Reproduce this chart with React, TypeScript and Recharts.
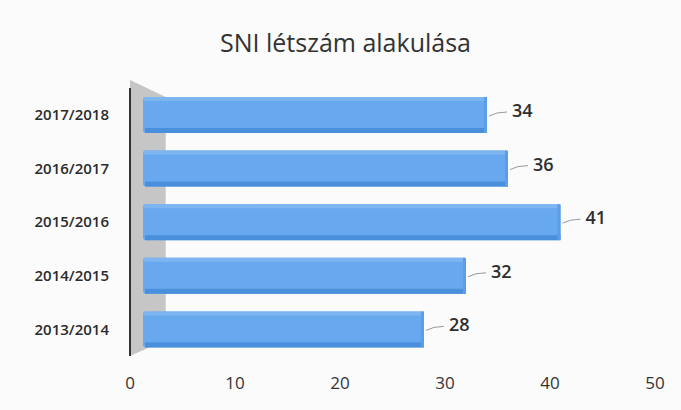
import React from 'react';
import {
    BarChart,
    Bar,
    XAxis,
    YAxis,
    LabelList,
    ReferenceArea
} from 'recharts';

const years = ['2017/2018', '2016/2017', '2015/2016', '2014/2015', '2013/2014'];
const counts = [34, 36, 41, 32, 28];
const xTicks = [0, 10, 20, 30, 40, 50];

const data = years.map((year, i) => ({ year, count: counts[i] }));

const FONT = '"Open Sans", "Noto Sans", sans-serif';
const DEPTH = 13;

// 3D-ish bar: light front face, darker bottom edge and right bevel
const Bar3D = (props: any) => {
    const { x, y, width, height } = props;
    const x0 = x + DEPTH;
    const w = Math.max(0, width - DEPTH);
    return (
        <g>
            <rect x={x0} y={y} width={w} height={height} rx={3} fill="#68a8ee" />
            <rect x={x0} y={y} width={w} height={4} rx={2} fill="#7db5f1" />
            <rect x={x0 + 2} y={y + height - 5} width={w - 2} height={5} fill="#4a8fdc" />
            <rect x={x0 + w - 3} y={y} width={3} height={height} fill="#5b9de6" />
        </g>
    );
};

// grey back wall behind the bars
const Wall = (props: any) => {
    const { x, y, width, height } = props;
    const pts = [
        [x, y - 8],
        [x + width, y + 9],
        [x + width, y + height - 16],
        [x, y + height]
    ].map((p) => p.join(',')).join(' ');
    return <polygon points={pts} fill="#c6c6c6" />;
};

const ValueLabel = (props: any) => {
    const { x, y, width, height, value } = props;
    const ex = x + width;
    const cy = y + height / 2;
    return (
        <g>
            <path d={`M${ex + 2},${cy + 1} L${ex + 10},${cy - 2} L${ex + 20},${cy - 3}`} stroke="#9a9a9a" strokeWidth={1} fill="none" />
            <text x={ex + 25} y={cy} dy={2} fill="#2e2e2e" fontSize={18} fontWeight={600} fontFamily={FONT}>
                {value}
            </text>
        </g>
    );
};

export default function App() {
    return (
        <div style={{ position: 'fixed', left: 0, top: 0, width: 681, height: 410, background: '#fbfbfb' }}>
            <div
                style={{
                    position: 'absolute',
                    top: 25,
                    width: 681,
                    textAlign: 'center',
                    fontFamily: FONT,
                    fontSize: 25,
                    fontWeight: 500,
                    color: '#333',
                    paddingLeft: 10,
                    boxSizing: 'border-box'
                }}
            >
                SNI létszám alakulása
            </div>
            <BarChart
                width={681}
                height={410}
                data={data}
                layout="vertical"
                margin={{ top: 88, right: 26, left: 0, bottom: 0 }}
                style={{ position: 'absolute', left: 0, top: 0 }}
            >
                <XAxis
                    type="number"
                    domain={[0, 50]}
                    ticks={xTicks}
                    axisLine={false}
                    tickLine={false}
                    height={54}
                    tickMargin={15}
                    tick={{ fill: '#333', fontSize: 17, fontFamily: FONT, fontWeight: 500 }}
                />
                <YAxis
                    type="category"
                    dataKey="year"
                    width={130}
                    axisLine={{ stroke: '#333', strokeWidth: 2 }}
                    tickLine={false}
                    tickMargin={15}
                    tick={{ fill: '#2b2b2b', fontSize: 15, fontFamily: FONT, fontWeight: 600 }}
                />
                <ReferenceArea x1={0} x2={3.4} shape={<Wall />} ifOverflow="visible" />
                <Bar dataKey="count" barSize={36} shape={<Bar3D />} isAnimationActive={false}>
                    <LabelList dataKey="count" content={<ValueLabel />} />
                </Bar>
            </BarChart>
        </div>
    );
}
